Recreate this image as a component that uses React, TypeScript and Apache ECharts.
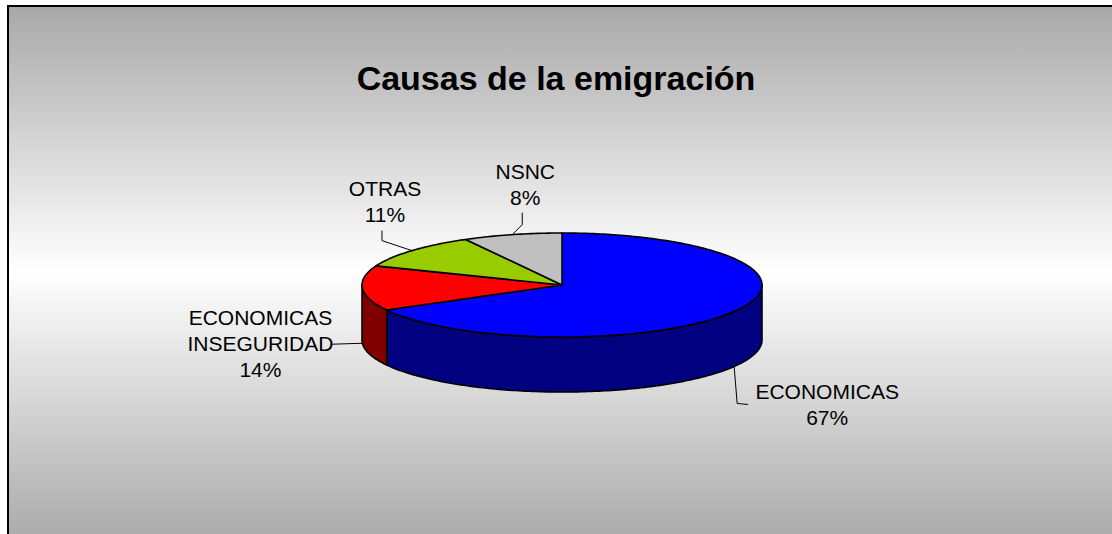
import React, { useEffect, useRef } from "react";
import * as echarts from "echarts";

// ---- data ----
const categories = ["ECONOMICAS", "ECONOMICAS\nINSEGURIDAD", "OTRAS", "NSNC"];
const values = [67, 14, 11, 8];
const topColors = ["#0000FF", "#FF0000", "#99CC00", "#C0C0C0"];
const sideColors = ["#000080", "#800000", "#4C6600", "#606060"];
const titleText = "Causas de la emigración";

// ---- layout ----
const PIE = { cx: 562, cy: 285, rx: 200, ry: 52, depth: 55, startDeg: -90 };
// leader path points and text centre, relative to the slice's computed anchor
const LABEL_LAYOUT = [
  { path: [[3, 37], [14, 38]], text: [93, 38] },
  { path: [[-32, 1]], text: [-102, 0] },
  { path: [[-30, -10], [-30, -20]], text: [-27, -49] },
  { path: [[10, -10], [10, -22]], text: [13, -50] },
];
const FONT = "Liberation Sans, Arial, sans-serif";

function ell(t: number, dy = 0): number[] {
  const r = (t * Math.PI) / 180;
  return [PIE.cx + PIE.rx * Math.cos(r), PIE.cy + PIE.ry * Math.sin(r) + dy];
}
function arc(t0: number, t1: number, dy: number): number[][] {
  const pts: number[][] = [];
  const n = Math.max(2, Math.ceil(Math.abs(t1 - t0)));
  for (let i = 0; i <= n; i++) pts.push(ell(t0 + ((t1 - t0) * i) / n, dy));
  return pts;
}

export default function App() {
  const ref = useRef<HTMLDivElement>(null);
  useEffect(() => {
    if (!ref.current) return;
    const chart = echarts.init(ref.current, undefined, { renderer: "svg" });
    const total = values.reduce((a, b) => a + b, 0);

    const renderItem = (params: any, api: any) => {
      const i = params.dataIndex;
      const v = api.value(0);
      let before = 0;
      for (let k = 0; k < i; k++) before += values[k];
      const t0 = PIE.startDeg + (before / total) * 360;
      const t1 = t0 + (v / total) * 360;
      const children: any[] = [];
      // side band (front half only)
      const a = Math.max(t0, 0);
      const b = Math.min(t1, 180);
      if (b > a) {
        const pts = arc(a, b, 0).concat(arc(b, a, PIE.depth));
        children.push({
          type: "polygon",
          shape: { points: pts },
          style: { fill: sideColors[i], stroke: "#000", lineWidth: 1.6, lineJoin: "round" },
        });
      }
      // top face
      const topPts = [[PIE.cx, PIE.cy]].concat(arc(t0, t1, 0));
      children.push({
        type: "polygon",
        shape: { points: topPts },
        style: { fill: topColors[i], stroke: "#000", lineWidth: 1.6, lineJoin: "round" },
      });
      // label
      const mid = (t0 + t1) / 2;
      const lower = Math.sin((mid * Math.PI) / 180) > 0;
      const anchor = ell(mid, lower ? PIE.depth : 0);
      const lay = LABEL_LAYOUT[i];
      const linePts = [anchor].concat(lay.path.map((p) => [anchor[0] + p[0], anchor[1] + p[1]]));
      children.push({
        type: "polyline",
        shape: { points: linePts },
        style: { stroke: "#000", lineWidth: 1, fill: null },
      });
      const pct = Math.round((v / total) * 100) + "%";
      children.push({
        type: "text",
        x: anchor[0] + lay.text[0],
        y: anchor[1] + lay.text[1],
        style: {
          text: categories[i] + "\n" + pct,
          fill: "#000",
          fontSize: 21,
          fontFamily: FONT,
          lineHeight: 26,
          align: "center",
          verticalAlign: "middle",
          textAlign: "center",
          textVerticalAlign: "middle",
        },
      });
      return { type: "group", children };
    };

    chart.setOption({
      animation: false,
      title: {
        text: titleText,
        left: "center",
        top: 56,
        textStyle: { fontSize: 34, fontWeight: "bold", fontFamily: FONT, color: "#000" },
      },
      graphic: [
        {
          type: "rect",
          z: -10,
          shape: { x: 8, y: 6, width: 2000, height: 540 },
          style: {
            fill: new echarts.graphic.LinearGradient(0, 0, 0, 1, [
              { offset: 0, color: "#a8a8a8" },
              { offset: 0.49, color: "#ffffff" },
              { offset: 1, color: "#a8a8a8" },
            ]),
            stroke: "#000",
            lineWidth: 2,
          },
        },
      ],
      series: [
        {
          type: "custom",
          coordinateSystem: "none",
          renderItem,
          data: values.map((v) => [v]),
        },
      ],
    });
    return () => chart.dispose();
  }, []);
  return (
    <div
      ref={ref}
      style={{ position: "absolute", left: 0, top: 0, width: 1112, height: 534 }}
    />
  );
}
